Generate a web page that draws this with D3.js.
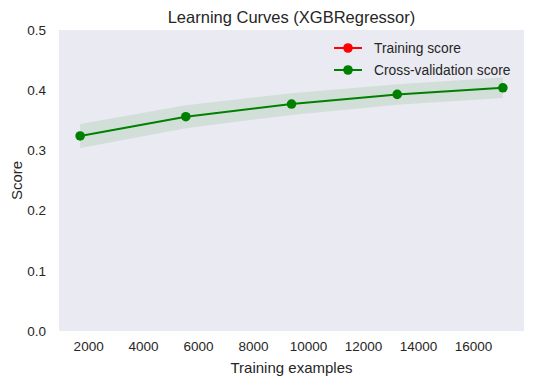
<!DOCTYPE html>
<html>
<head>
<meta charset="utf-8">
<script src="https://cdn.jsdelivr.net/npm/d3@7"></script>
<style>
  body { margin: 0; background: #fff; }
  text { font-family: "Liberation Sans", Arial, sans-serif; fill: #262626; }
</style>
</head>
<body>
<div id="chart"></div>
<script>
// data
var trainSizes = [1709, 5554, 9400, 13245, 17090];
var cvMean = [0.324, 0.356, 0.377, 0.393, 0.404];
var cvStd = [0.020, 0.019, 0.018, 0.017, 0.017];
var xTicks = [2000, 4000, 6000, 8000, 10000, 12000, 14000, 16000];
var yTicks = [0.0, 0.1, 0.2, 0.3, 0.4, 0.5];
var legendNames = ["Training score", "Cross-validation score"];
var legendColors = ["red", "green"];

var width = 533;
var height = 385;
var margin = { top: 30, right: 9, bottom: 54, left: 59 };

var svg = d3
  .select("#chart")
  .append("svg")
  .attr("width", width)
  .attr("height", height);

// matplotlib style 5% padding on x
var span = trainSizes[4] - trainSizes[0];
var xScale = d3
  .scaleLinear()
  .domain([trainSizes[0] - span * 0.05, trainSizes[4] + span * 0.05])
  .range([margin.left, width - margin.right]);
var yScale = d3
  .scaleLinear()
  .domain([0, 0.5])
  .range([height - margin.bottom, margin.top]);

// plot background
svg
  .append("rect")
  .attr("x", margin.left)
  .attr("y", margin.top)
  .attr("width", width - margin.left - margin.right)
  .attr("height", height - margin.top - margin.bottom)
  .attr("fill", "#EAEAF2");

// axes, no tick lines
var xAxis = d3.axisBottom(xScale).tickValues(xTicks).tickSize(0).tickPadding(10).tickFormat(d3.format("d"));
var yAxis = d3.axisLeft(yScale).tickValues(yTicks).tickSize(0).tickPadding(13).tickFormat(d3.format(".1f"));

var gx = svg
  .append("g")
  .attr("transform", "translate(0," + (height - margin.bottom) + ")")
  .call(xAxis);
var gy = svg
  .append("g")
  .attr("transform", "translate(" + margin.left + ",0)")
  .call(yAxis);
[gx, gy].forEach(function(g) {
  g.select(".domain").remove();
  g.selectAll("text").attr("font-size", 13.5).attr("font-family", null).style("fill", "#262626");
});

// std band
var data = trainSizes.map(function(s, i) {
  return { x: s, m: cvMean[i], s: cvStd[i] };
});
var area = d3
  .area()
  .x(function(d) { return xScale(d.x); })
  .y0(function(d) { return yScale(d.m - d.s); })
  .y1(function(d) { return yScale(d.m + d.s); });
svg
  .append("path")
  .datum(data)
  .attr("d", area)
  .attr("fill", "green")
  .attr("fill-opacity", 0.1);

// mean line + markers
var line = d3
  .line()
  .x(function(d) { return xScale(d.x); })
  .y(function(d) { return yScale(d.m); });
svg
  .append("path")
  .datum(data)
  .attr("d", line)
  .attr("fill", "none")
  .attr("stroke", "green")
  .attr("stroke-width", 2);
svg
  .selectAll(".dot")
  .data(data)
  .enter()
  .append("circle")
  .attr("cx", function(d) { return xScale(d.x); })
  .attr("cy", function(d) { return yScale(d.m); })
  .attr("r", 4.8)
  .attr("fill", "green");

// legend
var legend = svg.append("g").attr("transform", "translate(334,48)");
legendNames.forEach(function(name, i) {
  var row = legend.append("g").attr("transform", "translate(0," + i * 22 + ")");
  row.append("line")
    .attr("x1", 0).attr("x2", 28)
    .attr("stroke", legendColors[i])
    .attr("stroke-width", 2);
  row.append("circle")
    .attr("cx", 14).attr("r", 4.8)
    .attr("fill", legendColors[i]);
  row.append("text")
    .attr("x", 40)
    .attr("dy", "0.35em")
    .attr("font-size", 13.8)
    .text(name);
});

// title and labels
svg
  .append("text")
  .attr("x", (margin.left + width - margin.right) / 2)
  .attr("y", 23)
  .attr("text-anchor", "middle")
  .attr("font-size", 16.5)
  .text("Learning Curves (XGBRegressor)");
svg
  .append("text")
  .attr("x", (margin.left + width - margin.right) / 2)
  .attr("y", 373)
  .attr("text-anchor", "middle")
  .attr("font-size", 15)
  .text("Training examples");
svg
  .append("text")
  .attr("transform", "translate(22," + (margin.top + height - margin.bottom) / 2 + ")rotate(-90)")
  .attr("text-anchor", "middle")
  .attr("font-size", 15)
  .text("Score");
</script>
</body>
</html>
